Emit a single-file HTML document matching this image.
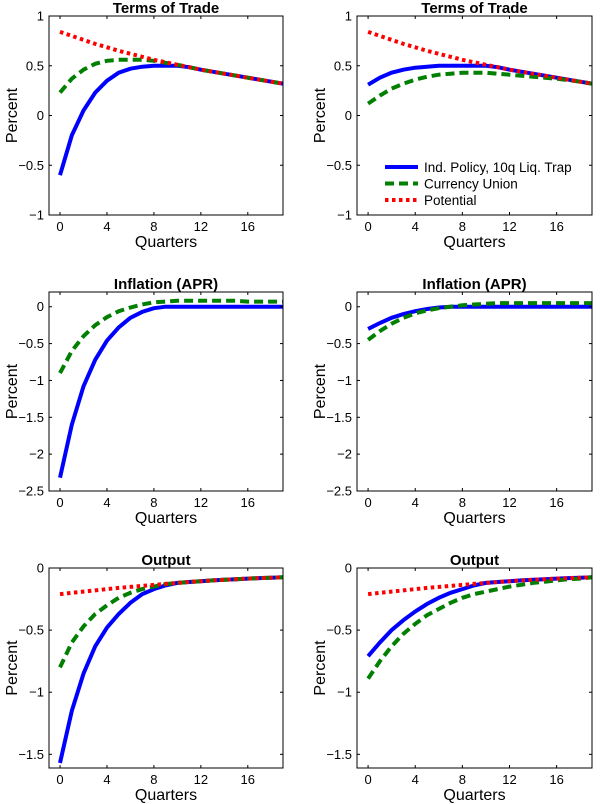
<!DOCTYPE html>
<html><head><meta charset="utf-8"><style>
body{margin:0;background:#fff}
svg{display:block;font-family:"Liberation Sans",Arial,sans-serif}
</style></head><body>
<svg id="c" width="600" height="804"></svg>
<script>
const quarters=[0,1,2,3,4,5,6,7,8,9,10,11,12,13,14,15,16,17,18,19];
const xTicks=[0,4,8,12,16];
const seriesNames=["Ind. Policy, 10q Liq. Trap","Currency Union","Potential"];
const totPot=[.84,.80,.76,.72,.685,.65,.62,.59,.56,.535,.51,.485,.46,.44,.42,.40,.38,.36,.34,.32];
const totBlueL=[-.6,-.2,.05,.23,.35,.43,.47,.49,.5,.5,.5,.485,.46,.44,.42,.40,.38,.36,.34,.32];
const totGreenL=[.23,.37,.46,.52,.55,.56,.56,.56,.55,.53,.51,.485,.46,.44,.42,.40,.38,.36,.34,.32];
const totBlueR=[.31,.38,.43,.46,.48,.49,.50,.50,.50,.50,.50,.485,.46,.44,.42,.40,.38,.36,.34,.32];
const totGreenR=[.12,.2,.27,.32,.36,.39,.41,.42,.43,.43,.43,.42,.41,.40,.39,.38,.37,.355,.34,.32];
const infBlueL=[-2.32,-1.6,-1.08,-.72,-.46,-.28,-.15,-.07,-.02,0,0,0,0,0,0,0,0,0,0,0];
const infGreenL=[-.9,-.6,-.4,-.25,-.14,-.06,-.01,.03,.06,.07,.08,.08,.08,.08,.08,.08,.07,.07,.07,.07];
const infBlueR=[-.3,-.22,-.15,-.1,-.06,-.03,-.01,0,0,0,0,0,0,0,0,0,0,0,0,0];
const infGreenR=[-.45,-.33,-.23,-.15,-.09,-.05,-.02,0,.02,.03,.04,.05,.05,.05,.05,.05,.05,.05,.05,.05];
const outPot=[-.21,-.2,-.19,-.18,-.17,-.16,-.152,-.144,-.136,-.128,-.12,-.113,-.106,-.1,-.095,-.09,-.085,-.081,-.078,-.075];
const outBlueL=[-1.57,-1.15,-.85,-.63,-.48,-.37,-.28,-.21,-.17,-.14,-.12,-.113,-.106,-.1,-.095,-.09,-.085,-.081,-.078,-.075];
const outGreenL=[-.8,-.6,-.47,-.37,-.3,-.24,-.2,-.17,-.15,-.13,-.12,-.113,-.106,-.1,-.095,-.09,-.085,-.081,-.078,-.075];
const outBlueR=[-.71,-.6,-.5,-.42,-.35,-.29,-.24,-.2,-.17,-.14,-.12,-.113,-.106,-.1,-.095,-.09,-.085,-.081,-.078,-.075];
const outGreenR=[-.89,-.75,-.63,-.53,-.45,-.38,-.33,-.28,-.24,-.21,-.19,-.17,-.15,-.135,-.12,-.11,-.1,-.09,-.085,-.075];
const totTicks=[-1,-0.5,0,0.5,1];
const infTicks=[-2.5,-2,-1.5,-1,-0.5,0];
const outTicks=[-1.5,-1,-0.5,0];

const NS="http://www.w3.org/2000/svg";
const svg=document.getElementById('c');
function mk(t,a,p){const e=document.createElementNS(NS,t);for(const k in a)e.setAttribute(k,a[k]);(p||svg).appendChild(e);return e;}
function fmt(v){return String(v).replace('-','\u2212');}

const panels=[
 {name:'terms-of-trade-left',title:'Terms of Trade',x0:49,x1:283,y0:16,y1:215,ymin:-1,ymax:1,ticks:totTicks,blue:totBlueL,green:totGreenL,pot:totPot,leg:false},
 {name:'terms-of-trade-right',title:'Terms of Trade',x0:357,x1:592,y0:16,y1:215,ymin:-1,ymax:1,ticks:totTicks,blue:totBlueR,green:totGreenR,pot:totPot,leg:true},
 {name:'inflation-left',title:'Inflation (APR)',x0:49,x1:283,y0:292,y1:491,ymin:-2.5,ymax:0.2,ticks:infTicks,blue:infBlueL,green:infGreenL,pot:null,leg:false},
 {name:'inflation-right',title:'Inflation (APR)',x0:357,x1:592,y0:292,y1:491,ymin:-2.5,ymax:0.2,ticks:infTicks,blue:infBlueR,green:infGreenR,pot:null,leg:false},
 {name:'output-left',title:'Output',x0:49,x1:283,y0:568,y1:768,ymin:-1.61,ymax:0,ticks:outTicks,blue:outBlueL,green:outGreenL,pot:outPot,leg:false},
 {name:'output-right',title:'Output',x0:357,x1:592,y0:568,y1:768,ymin:-1.61,ymax:0,ticks:outTicks,blue:outBlueR,green:outGreenR,pot:outPot,leg:false}
];
const XMIN=-0.94,XMAX=19;
panels.forEach(p=>{
 const g=mk('g',{});
 
 
 const sx=v=>p.x0+(v-XMIN)/(XMAX-XMIN)*(p.x1-p.x0);
 const sy=v=>p.y1-(v-p.ymin)/(p.ymax-p.ymin)*(p.y1-p.y0);
 const cx=(p.x0+p.x1)/2;
 const t=mk('text',{x:cx,y:p.y0-3,'text-anchor':'middle','font-size':15,'font-weight':'bold'},g);t.textContent=p.title;
 
 const clipId='cl'+p.name;
 const cp=mk('clipPath',{id:clipId},g);mk('rect',{x:p.x0,y:p.y0,width:p.x1-p.x0,height:p.y1-p.y0},cp);
 const lines=mk('g',{'clip-path':'url(#'+clipId+')'},g);
 const path=arr=>arr.map((v,i)=>(i?'L':'M')+sx(quarters[i]).toFixed(1)+','+sy(v).toFixed(1)).join('');
 let e=mk('path',{d:path(p.blue),fill:'none',stroke:'#0000ff','stroke-width':4},lines);
 
 e=mk('path',{d:path(p.green),fill:'none',stroke:'#007f00','stroke-width':4,'stroke-dasharray':'9,5'},lines);
 
 if(p.pot){e=mk('path',{d:path(p.pot),fill:'none',stroke:'#ff0000','stroke-width':4,'stroke-dasharray':'3.5,3.5'},lines);
 }
 const box=mk('rect',{x:p.x0,y:p.y0,width:p.x1-p.x0,height:p.y1-p.y0,fill:'none',stroke:'#000','stroke-width':1},g);
 
 p.ticks.forEach(v=>{const y=sy(v);
  mk('line',{x1:p.x0,x2:p.x0+3,y1:y,y2:y,stroke:'#000'},g);mk('line',{x1:p.x1,x2:p.x1-3,y1:y,y2:y,stroke:'#000'},g);
  const l=mk('text',{x:p.x0-5,y:y+4.5,'text-anchor':'end','font-size':13},g);l.textContent=fmt(v);
  });
 xTicks.forEach(v=>{const x=sx(v);
  mk('line',{x1:x,x2:x,y1:p.y1,y2:p.y1-3,stroke:'#000'},g);mk('line',{x1:x,x2:x,y1:p.y0,y2:p.y0+3,stroke:'#000'},g);
  const l=mk('text',{x:x,y:p.y1+16,'text-anchor':'middle','font-size':13},g);l.textContent=v;
  });
 const xl=mk('text',{x:cx,y:p.y1+32,'text-anchor':'middle','font-size':16},g);xl.textContent='Quarters';
 
 const ylx=p.x0-32,yly=(p.y0+p.y1)/2;
 const yl=mk('text',{x:ylx,y:yly,'text-anchor':'middle','font-size':16,transform:'rotate(-90 '+ylx+' '+yly+')'},g);yl.textContent='Percent';
 
 if(p.leg){
  const lg=mk('g',{},g);
  const st=[['#0000ff','none'],['#007f00','9,5'],['#ff0000','3.5,3.5']];
  seriesNames.forEach((n,i)=>{const y=167+i*16.5;
   const ent=mk('g',{},lg);
   mk('line',{x1:385,x2:418,y1:y,y2:y,stroke:st[i][0],'stroke-width':4,'stroke-dasharray':st[i][1]},ent);
   const tx=mk('text',{x:424,y:y+5,'font-size':13.5},ent);tx.textContent=n;});
 }
});
</script>
</body></html>
